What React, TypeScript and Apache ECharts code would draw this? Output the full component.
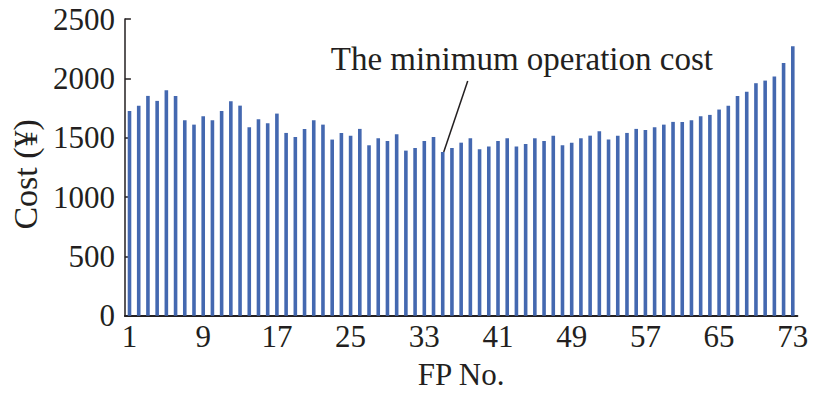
import React, { useEffect, useRef } from "react";
import * as echarts from "echarts";

const costValues: number[] = [
  1725, 1770, 1852, 1810, 1900, 1852, 1647, 1610, 1680, 1647,
  1725, 1807, 1770, 1588, 1655, 1621, 1703, 1540, 1506, 1574,
  1647, 1610, 1484, 1540, 1517, 1574, 1436, 1495, 1472, 1529,
  1391, 1413, 1472, 1506, 1380, 1413, 1458, 1495, 1402, 1425,
  1472, 1495, 1425, 1447, 1495, 1472, 1517, 1436, 1458, 1495,
  1517, 1554, 1484, 1517, 1540, 1574, 1565, 1588, 1610, 1633,
  1633, 1647, 1680, 1692, 1737, 1770, 1852, 1888, 1959, 1981,
  2015, 2130, 2270,
];
const fpNumbers: string[] = costValues.map((_, i) => String(i + 1));
const yTicks = { min: 0, max: 2500, interval: 500 };
const annotatedFP = "35";
const annotationText = "The minimum operation cost";
const xAxisName = "FP No.";
const yAxisName = "Cost (¥)";

const FONT = "'Liberation Serif', 'Times New Roman', serif";
const INK = "#231f20";

export default function App() {
  const ref = useRef<HTMLDivElement>(null);
  useEffect(() => {
    if (!ref.current) return;
    const chart = echarts.init(ref.current, undefined, { renderer: "svg" });
    chart.setOption({
      animation: false,
      backgroundColor: "#ffffff",
      grid: { left: 118, right: 15.6, top: 19, bottom: 81.3 },
      xAxis: {
        type: "category",
        data: fpNumbers,
        name: xAxisName,
        nameLocation: "middle",
        nameGap: 43,
        nameTextStyle: { fontFamily: FONT, fontSize: 31, color: INK },
        axisLine: { lineStyle: { color: INK, width: 2 } },
        axisTick: {
          inside: true,
          alignWithLabel: true,
          interval: 7,
          length: 6,
          lineStyle: { color: INK, width: 2 },
        },
        axisLabel: {
          interval: 7,
          margin: 5,
          fontFamily: FONT,
          fontSize: 31,
          color: INK,
        },
        splitLine: { show: false },
      },
      yAxis: {
        type: "value",
        min: yTicks.min,
        max: yTicks.max,
        interval: yTicks.interval,
        name: yAxisName,
        nameLocation: "middle",
        nameGap: 80,
        nameTextStyle: {
          fontFamily: FONT,
          fontSize: 34,
          color: INK,
          padding: [0, 14, 0, 0],
        },
        axisLine: { show: true, lineStyle: { color: INK, width: 1.5 } },
        axisTick: {
          show: true,
          inside: true,
          length: 6,
          lineStyle: { color: INK, width: 1.5 },
        },
        axisLabel: {
          margin: 10,
          fontFamily: FONT,
          fontSize: 31,
          color: INK,
          formatter: (v: number) => String(v),
        },
        splitLine: { show: false },
      },
      series: [
        {
          type: "bar",
          data: costValues,
          barWidth: 3.6,
          itemStyle: { color: "#4468b0" },
        },
      ],
    });

    const p = chart.convertToPixel({ gridIndex: 0 }, [
      annotatedFP,
      costValues[Number(annotatedFP) - 1],
    ]) as number[];
    chart.setOption({
      graphic: [
        {
          type: "line",
          shape: { x1: p[0] + 1, y1: p[1], x2: p[0] + 25, y2: p[1] - 71 },
          style: { stroke: INK, lineWidth: 1.5 },
          silent: true,
        },
        {
          type: "text",
          x: p[0] - 112,
          y: p[1] - 93,
          style: {
            text: annotationText,
            fontFamily: FONT,
            fontSize: 33,
            fill: INK,
            align: "left",
            verticalAlign: "middle",
          },
          silent: true,
        },
      ],
    });

    return () => chart.dispose();
  }, []);
  return (
    <div
      ref={ref}
      style={{ position: "fixed", left: 0, top: 0, width: 813, height: 397 }}
    />
  );
}
